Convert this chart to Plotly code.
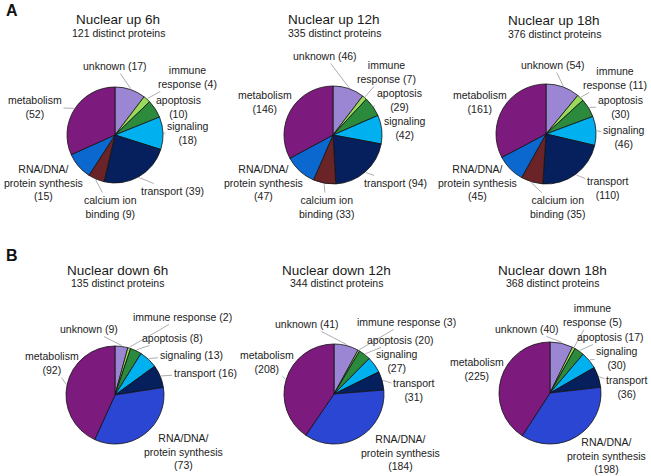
import math
import plotly.graph_objects as go

W, H = 651, 476

# ---------------- data ----------------
categories_up = ["unknown", "immune response", "apoptosis", "signaling", "transport",
                 "calcium ion binding", "RNA/DNA/protein synthesis", "metabolism"]
up_6h = [17, 4, 10, 18, 39, 9, 15, 52]
up_12h = [46, 7, 29, 42, 94, 33, 47, 146]
up_18h = [54, 11, 30, 46, 110, 35, 45, 161]

categories_down = ["unknown", "immune response", "apoptosis", "signaling", "transport",
                   "RNA/DNA/protein synthesis", "metabolism"]
down_6h = [9, 2, 8, 13, 16, 73, 92]
down_12h = [41, 3, 20, 27, 31, 184, 208]
down_18h = [40, 5, 17, 30, 36, 198, 225]

titles = ["Nuclear up 6h", "Nuclear up 12h", "Nuclear up 18h",
          "Nuclear down 6h", "Nuclear down 12h", "Nuclear down 18h"]
distinct = [121, 335, 376, 135, 344, 368]

colors_up = ["#9a86d2", "#9ada5a", "#2b8a3c", "#00b0ef", "#06205e",
             "#6a2326", "#0a68cf", "#7c1a7e"]
colors_down = ["#9a86d2", "#9ada5a", "#2b8a3c", "#00b0ef", "#06205e",
               "#2a46d2", "#7c1a7e"]

# label formats (line breaks) per pie
fmt_up_a = ["unknown ({})", "immune<br>response ({})", "apoptosis<br>({})", "signaling<br>({})",
            "transport ({})", "calcium ion<br>binding ({})", "RNA/DNA/<br>protein synthesis<br>({})",
            "metabolism<br>({})"]
fmt_up_c = ["unknown ({})", "immune<br>response ({})", "apoptosis<br>({})", "signaling<br>({})",
            "transport<br>({})", "calcium ion<br>binding ({})", "RNA/DNA/<br>protein synthesis<br>({})",
            "metabolism<br>({})"]
fmt_down_a = ["unknown ({})", "immune response ({})", "apoptosis ({})", "signaling ({})",
              "transport ({})", "RNA/DNA/<br>protein synthesis<br>({})", "metabolism<br>({})"]
fmt_down_b = ["unknown ({})", "immune response ({})", "apoptosis ({})", "signaling<br>({})",
              "transport<br>({})", "RNA/DNA/<br>protein synthesis<br>({})", "metabolism<br>({})"]
fmt_down_c = ["unknown ({})", "immune<br>response ({})", "apoptosis ({})", "signaling<br>({})",
              "transport<br>({})", "RNA/DNA/<br>protein synthesis<br>({})", "metabolism<br>({})"]

# layout: pie centre/radius (px), title centre, label centres (px)
panels = [
    dict(vals=up_6h, cats=categories_up, cols=colors_up, fmt=fmt_up_a,
         c=(115, 135), r=48, t=(118, 20),
         lab=[(115, 66), (187, 77), (178, 107), (188, 133), (172, 191), (110, 207), (43, 182), (35, 107)]),
    dict(vals=up_12h, cats=categories_up, cols=colors_up, fmt=fmt_up_a,
         c=(333, 135), r=49, t=(334, 20),
         lab=[(325, 56), (386, 72), (399, 100), (405, 128), (395, 183), (326, 207), (263, 182), (265, 102)]),
    dict(vals=up_18h, cats=categories_up, cols=colors_up, fmt=fmt_up_c,
         c=(546, 134), r=50, t=(554, 21),
         lab=[(553, 65), (615, 78), (620, 107), (624, 137), (608, 188), (557, 207), (478, 182), (480, 102)]),
    dict(vals=down_6h, cats=categories_down, cols=colors_down, fmt=fmt_down_a,
         c=(115, 395), r=49, t=(117, 270),
         lab=[(89, 329), (182, 317), (172, 338), (191, 355), (205, 373), (183, 451), (52, 363)]),
    dict(vals=down_12h, cats=categories_down, cols=colors_down, fmt=fmt_down_b,
         c=(334, 394), r=50, t=(336, 270),
         lab=[(307, 324), (406, 322), (400, 340), (397, 361), (414, 390), (400, 452), (267, 362)]),
    dict(vals=down_18h, cats=categories_down, cols=colors_down, fmt=fmt_down_c,
         c=(550, 393), r=51, t=(552, 270),
         lab=[(527, 329), (592, 315), (610, 337), (617, 358), (627, 387), (606, 455), (477, 369)]),
]

FONT = "Arial, 'Liberation Sans', sans-serif"


def px(x):
    return x / W


def py(y):
    return 1 - y / H


fig = go.Figure()
annotations = []

for i, p in enumerate(panels):
    cx, cy = p["c"]
    r = p["r"]
    fig.add_trace(go.Pie(
        labels=p["cats"], values=p["vals"], sort=False, direction="clockwise", rotation=0,
        marker=dict(colors=p["cols"], line=dict(color="#111111", width=0.8)),
        textinfo="none", hoverinfo="label+value", showlegend=False,
        domain=dict(x=[px(cx - r), px(cx + r)], y=[py(cy + r), py(cy - r)]),
    ))
    # titles
    tx, ty = p["t"]
    annotations.append(dict(x=px(tx), y=py(ty), xref="paper", yref="paper", showarrow=False,
                            text=titles[i], font=dict(family=FONT, size=13.5, color="#1a1a1a"),
                            xanchor="center", yanchor="middle"))
    annotations.append(dict(x=px(tx), y=py(ty + 13), xref="paper", yref="paper", showarrow=False,
                            text=f"{distinct[i]} distinct proteins",
                            font=dict(family=FONT, size=10.5, color="#1a1a1a"),
                            xanchor="center", yanchor="middle"))
    # slice labels with leader lines
    total = sum(p["vals"])
    cum = 0
    for j, v in enumerate(p["vals"]):
        frac = (cum + v / 2) / total
        cum += v
        th = 2 * math.pi * frac
        tipx = cx + (r + 1) * math.sin(th)
        tipy = cy - (r + 1) * math.cos(th)
        lx, ly = p["lab"][j]
        annotations.append(dict(
            x=px(tipx), y=py(tipy), xref="paper", yref="paper",
            ax=lx - tipx, ay=ly - tipy, axref="pixel", ayref="pixel",
            text=p["fmt"][j].format(v), showarrow=True, arrowhead=0, arrowwidth=0.8,
            arrowcolor="#999999", standoff=0,
            font=dict(family=FONT, size=10.5, color="#222222"), align="center",
        ))

annotations.append(dict(x=px(4), y=py(10), xref="paper", yref="paper", showarrow=False,
                        text="<b>A</b>", font=dict(family=FONT, size=16, color="#111111"),
                        xanchor="left", yanchor="middle"))
annotations.append(dict(x=px(4), y=py(255), xref="paper", yref="paper", showarrow=False,
                        text="<b>B</b>", font=dict(family=FONT, size=16, color="#111111"),
                        xanchor="left", yanchor="middle"))

fig.update_layout(
    width=W, height=H, margin=dict(l=0, r=0, t=0, b=0),
    paper_bgcolor="white", plot_bgcolor="white",
    annotations=annotations,
)

fig.write_html("out.html", config={"displayModeBar": False},
               post_script="document.body.style.margin='0px';document.body.style.overflow='hidden';")
